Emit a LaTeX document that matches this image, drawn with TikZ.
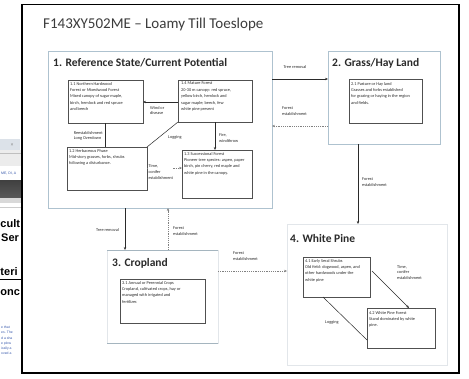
\documentclass[tikz,border=0pt]{standalone}
\usepackage{fontspec}
\setmainfont{Carlito}
\newfontfamily\webfont{Liberation Sans}
\usetikzlibrary{arrows.meta}
\definecolor{stborder}{HTML}{AEC2CF}
\definecolor{faintborder}{HTML}{E2E6EA}
\definecolor{inborder}{HTML}{505050}
\definecolor{ink}{HTML}{2A2A2A}
\definecolor{titlegray}{HTML}{3C3C3C}
\definecolor{webblue}{HTML}{3355AA}
\definecolor{tabgray}{HTML}{DCE2E9}
\begin{document}
\begin{tikzpicture}[x=1pt,y=-1pt,
  statebox/.style={draw=stborder,line width=0.8pt,anchor=north west,inner sep=0pt,outer sep=0pt},
  faintbox/.style={draw=faintborder,line width=0.8pt,anchor=north west,inner sep=0pt,outer sep=0pt},
  inbox/.style={draw=inborder,line width=0.7pt,anchor=north west,inner sep=0pt,outer sep=0pt},
  sttitle/.style={anchor=west,inner sep=0pt,font=\fontsize{11.5}{13}\selectfont\bfseries,text=ink},
  intext/.style={anchor=north west,inner sep=0pt,align=left,font=\fontsize{4.3}{6.4}\selectfont,text=ink},
  lbl/.style={inner sep=0pt,align=left,font=\fontsize{4.3}{5.6}\selectfont,text=ink},
  webbig/.style={anchor=base west,inner sep=0pt,font=\webfont\bfseries\fontsize{11}{12}\selectfont},
  arr/.style={draw=ink,line width=0.5pt,-{Stealth[length=3pt,width=2.4pt]}},
  dasharr/.style={draw=gray,line width=0.5pt,dash pattern=on 1.2pt off 1pt,-{Stealth[length=3pt,width=2.4pt]}},
  ln/.style={draw=ink,line width=0.5pt}]
\useasboundingbox (0,0) rectangle (469,378);
\fill[white] (0,0) rectangle (469,378);

% ---- background browser window strip on the left ----
\begin{scope}
\clip (0,0) rectangle (21,378);
\fill[tabgray] (0,139) rectangle (20,150);
\node[font=\webfont\fontsize{5}{5}\selectfont,text=gray,inner sep=0pt] (tabx) at (12,145) {×};
\fill[gray!15] (0,150) rectangle (21,166);
\draw[gray!50,line width=0.4pt] (0,153) -- (21,153);
\node[anchor=base west,font=\webfont\fontsize{3.5}{4}\selectfont,text=webblue,inner sep=0pt] (crumb) at (1,174) {ME, DI, A};
\shade[top color=black!75,middle color=orange!85!red,bottom color=black!65] (0,180) rectangle (21,198);
\fill[gray!30] (0,198) rectangle (21,203);
\draw[gray!40,line width=0.4pt] (0,207) -- (21,207);
\node[webbig] (w1) at (0.3,227) {cult};
\node[webbig] (w2) at (1,241) {Ser};
\node[webbig] (w3) at (0.3,275) {teri};
\draw[black,line width=0.8pt] (0,279) -- (21,279);
\node[webbig] (w4) at (0.3,295) {onc};
\node[anchor=north west,align=left,font=\webfont\fontsize{3.4}{5.2}\selectfont,text=webblue,inner sep=0pt] (w5) at (1,326) {e that\\es. The\\d a sha\\e plow\\ically a\\oved a};
\end{scope}

% ---- main slide frame ----
\draw[black,line width=1.6pt] (21.8,4.5) rectangle (459,373);

% title
\node[anchor=west,inner sep=0pt,font=\fontsize{15}{17}\selectfont,text=titlegray] (title) at (43,24) {F143XY502ME – Loamy Till Toeslope};

% ---- state boxes ----
\node[statebox,minimum width=224pt,minimum height=157pt] (s1) at (48,51) {};
\node[sttitle] (t1) at (53,63) {1. Reference State/Current Potential};

\node[statebox,minimum width=112pt,minimum height=93pt] (s2) at (328,51) {};
\node[sttitle] (t2) at (332,63) {2. Grass/Hay Land};

\node[faintbox,minimum width=111pt,minimum height=93pt] (s3) at (107,250) {};
\draw[stborder!80!gray,line width=0.8pt] (s3.north west) -- (s3.north east);
\draw[stborder!80!gray,line width=0.8pt] (s3.south west) -- (s3.south east);
\node[sttitle] (t3) at (112,263) {3. Cropland};

\node[faintbox,minimum width=160pt,minimum height=141pt] (s4) at (287,224) {};
\node[sttitle] (t4) at (290,239) {4. White Pine};

% ---- community phase boxes ----
\node[inbox,minimum width=75pt,minimum height=43pt] (b11) at (68,80) {};
\node[intext] (x11) at (70,82) {1.1 Northern Hardwood\\Forest or Mixedwood Forest\\Mixed canopy of sugar maple,\\birch, hemlock and red spruce\\and beech};

\node[inbox,minimum width=74pt,minimum height=42pt] (b14) at (178,80) {};
\node[intext] (x14) at (181,82) {1.4 Mature Forest\\20-30 m canopy: red spruce,\\yellow birch, hemlock and\\sugar maple; beech, few\\white pine present};

\node[inbox,minimum width=80pt,minimum height=43pt] (b12) at (67,147) {};
\node[intext] (x12) at (69,149) {1.2 Herbaceous Phase\\Mid-story grasses, forbs, shrubs\\following a disturbance.};

\node[inbox,minimum width=70pt,minimum height=48pt] (b13) at (182,150) {};
\node[intext] (x13) at (184,152) {1.3 Successional Forest\\Pioneer tree species: aspen, paper\\birch, pin cherry, red maple and\\white pine in the canopy.};

\node[inbox,minimum width=73pt,minimum height=44pt] (b21) at (349,79) {};
\node[intext] (x21) at (351,82) {2.1 Pasture or Hay land\\Grasses and forbs established\\for grazing or haying in the region\\and fields.};

\node[inbox,minimum width=85pt,minimum height=44pt] (b31) at (120,279) {};
\node[intext] (x31) at (122,281) {3.1 Annual or Perennial Crops\\Cropland, cultivated crops, hay or\\managed with irrigated and\\fertilizer.};

\node[inbox,minimum width=67pt,minimum height=40pt] (b41) at (303,257) {};
\node[intext] (x41) at (305,259) {4.1 Early Seral Shrubs\\Old field: dogwood, aspen, and\\other hardwoods under the\\white pine};

\node[inbox,minimum width=68pt,minimum height=40pt] (b42) at (367,308) {};
\node[intext] (x42) at (369,311) {4.2 White Pine Forest\\Stand dominated by white\\pine.};

% ---- transitions between states ----
\draw[arr] (s1.east |- 0,79) -- (s2.west |- 0,79);
\node[lbl,anchor=south] (l12) at (295,69) {Tree removal};
\draw[dasharr] (s2.west |- 0,126) -- (s1.east |- 0,126);
\node[lbl,anchor=north west] (l21) at (282,107) {Forest\\establishment};

\draw[arr] (s2.south -| 358,0) -- (s4.north -| 358,0);
\node[lbl,anchor=north west] (l24) at (362,178) {Forest\\establishment};

\draw[arr] (s1.south -| 125,0) -- (s3.north -| 125,0);
\node[lbl,anchor=east] (l13) at (119,230) {Tree removal};
\draw[dasharr] (s3.north -| 168,0) -- (s1.south -| 168,0);
\node[lbl,anchor=west] (l31) at (173,231) {Forest\\establishment};

\draw[dasharr] (s3.east |- 0,271) -- (s4.west |- 0,271);
\node[lbl,anchor=north west] (l34) at (233,252) {Forest\\establishment};

% ---- pathways inside state 1 ----
\draw[arr] (b14.west |- 0,102) -- (b11.east |- 0,102);
\node[lbl,anchor=north west] (p1) at (150,106) {Wind or\\disease};
\draw[ln] (b11.south -| 105,0) -- (b12.north -| 105,0);
\node[lbl,anchor=east] (p2) at (103,136) {Reestablishment\\Long Overdown};
\draw[ln] (b14.south west) -- (b12.north east);
\node[lbl,anchor=west] (p3) at (168,137) {Logging};
\draw[arr] (b14.south -| 215,0) -- (b13.north -| 215,0);
\node[lbl,anchor=west] (p4) at (219,138) {Fire,\\windthrow};
\draw[dasharr] (b12.east |- 0,168) -- (b13.west |- 0,168);
\node[lbl,anchor=north west,fill=white,inner sep=0.3pt] (p5) at (148,164.5) {Time,\\conifer\\establishment};

% ---- pathways inside state 4 ----
\coordinate (c41) at (372,271);
\draw[arr] (c41) -- (b42.north -| 409,0);
\node[lbl,anchor=north west] (p6) at (397,265) {Time,\\conifer\\establishment};
\coordinate (c42) at (b42.west |- 0,340);
\draw[ln] (c42) -- (b41.south -| 323,0);
\node[lbl,anchor=west] (p7) at (325,322) {Logging};
\end{tikzpicture}
\end{document}
